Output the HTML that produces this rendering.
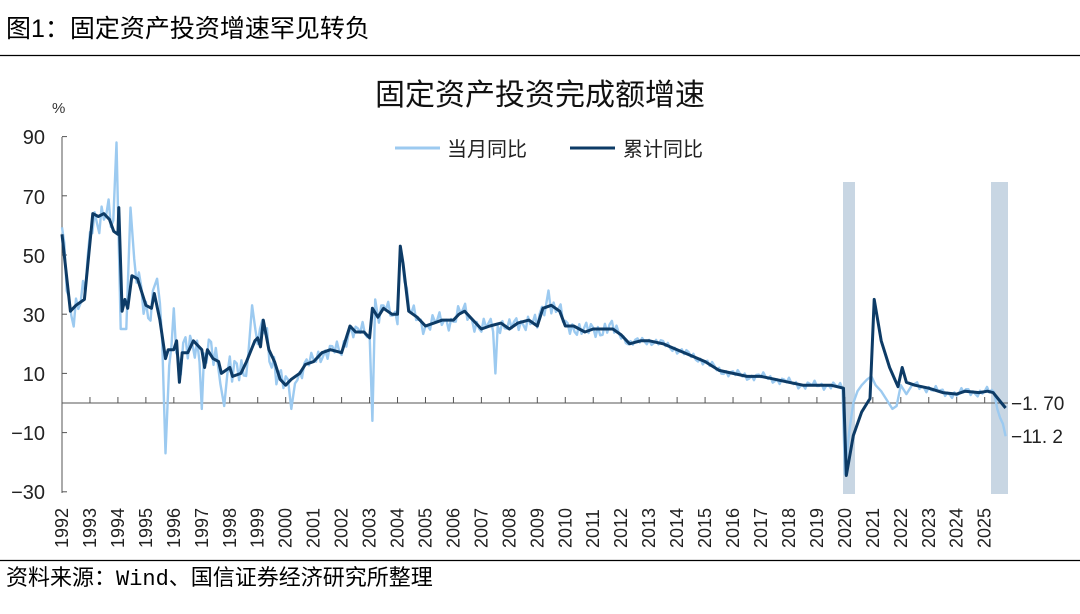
<!DOCTYPE html>
<html><head><meta charset="utf-8"><style>
body{margin:0;background:#fff;width:1080px;height:609px;overflow:hidden;font-family:"Liberation Sans","Noto Sans CJK SC",sans-serif}
</style></head><body>
<svg id="s" width="1080" height="609" xmlns="http://www.w3.org/2000/svg" font-family="Liberation Sans, Noto Sans CJK SC, sans-serif">
<text x="6" y="37" font-size="25" fill="#000">图1：固定资产投资增速罕见转负</text>
<line x1="0" y1="55.5" x2="1080" y2="55.5" stroke="#000" stroke-width="1.2"/>
<text x="540" y="105" font-size="30" text-anchor="middle" fill="#111">固定资产投资完成额增速</text>
<line x1="395" y1="148" x2="440" y2="148" stroke="#9ccaf0" stroke-width="3"/>
<text x="447" y="156" font-size="20" fill="#222">当月同比</text>
<line x1="570" y1="148" x2="615" y2="148" stroke="#0d3b66" stroke-width="3"/>
<text x="623" y="156" font-size="20" fill="#222">累计同比</text>
<rect x="843" y="182" width="12" height="312" fill="#c8d6e3"/>
<rect x="991" y="182" width="17" height="312" fill="#c8d6e3"/>
<text x="52" y="113" font-size="15" fill="#333">%</text>
<g font-size="20" fill="#222" text-anchor="end">
<text x="45" y="144">90</text><text x="45" y="204">70</text><text x="45" y="263">50</text>
<text x="45" y="322">30</text><text x="45" y="381">10</text><text x="45" y="440">−10</text><text x="45" y="499">−30</text>
</g>
<line x1="62" y1="137" x2="62" y2="493" stroke="#555" stroke-width="1"/>
<g stroke="#555" stroke-width="1" id="yt"></g>
<line x1="62" y1="403" x2="1008" y2="403" stroke="#555" stroke-width="1"/>
<g id="xt" stroke="#555"></g>
<g id="xl" font-size="18" fill="#222"></g>
<path id="light" fill="none" stroke="#9ccaf0" stroke-width="2.4" stroke-linejoin="round"/>
<path id="dark" fill="none" stroke="#0d3b66" stroke-width="3" stroke-linejoin="round"/>
<text x="1011" y="410" font-size="19" fill="#222">−1. 70</text>
<text x="1011" y="443" font-size="19" fill="#222">−11. 2</text>
<line x1="0" y1="560.5" x2="1080" y2="560.5" stroke="#000" stroke-width="1.2"/>
<text x="6" y="585" font-size="22" fill="#000" font-family="Liberation Mono, Noto Sans CJK SC, monospace">资料来源：Wind、国信证券经济研究所整理</text>
</svg>
<script>
var X=function(t){return 62+(t-1992)*27.96},Y=function(v){return 403-v*2.96};
var ns="http://www.w3.org/2000/svg";
var yt=document.getElementById('yt');
[90,70,50,30,10,-10,-30].forEach(function(v){var l=document.createElementNS(ns,'line');l.setAttribute('x1',62);l.setAttribute('x2',67);l.setAttribute('y1',Y(v));l.setAttribute('y2',Y(v));yt.appendChild(l);});
var xt=document.getElementById('xt'),xl=document.getElementById('xl');
for(var yr=1992;yr<=2025;yr++){var x=X(yr);
 if(yr>1992){var l=document.createElementNS(ns,'line');l.setAttribute('x1',x);l.setAttribute('x2',x);l.setAttribute('y1',397);l.setAttribute('y2',403);xt.appendChild(l);}
 var t=document.createElementNS(ns,'text');t.setAttribute('transform','translate('+(x+6)+',548) rotate(-90)');t.textContent=yr;xl.appendChild(t);}
var D=[[1992,57],[1992.3,31],[1992.5,33],[1992.8,35],[1993.1,64],[1993.3,63],[1993.5,64],[1993.7,62],[1993.85,58],[1994,57],[1994.03,66],[1994.15,31],[1994.25,35],[1994.35,32],[1994.5,43],[1994.7,42],[1994.9,36],[1995,33],[1995.2,32],[1995.3,37],[1995.5,28],[1995.7,15],[1995.8,18],[1996,18],[1996.1,21],[1996.2,7],[1996.3,17],[1996.5,17],[1996.7,21],[1997,18],[1997.1,12],[1997.2,18],[1997.4,15],[1997.6,14],[1997.7,10],[1998,12],[1998.1,9],[1998.4,10],[1998.6,14],[1998.9,21],[1999,22],[1999.1,19],[1999.2,28],[1999.4,18],[1999.6,14],[1999.8,8],[2000,6],[2000.2,8],[2000.5,10],[2000.7,13],[2001,14],[2001.3,17],[2001.6,18],[2002,17],[2002.3,26],[2002.5,24],[2002.8,24],[2003,22],[2003.1,32],[2003.3,29],[2003.5,32],[2003.8,30],[2004,30],[2004.1,53],[2004.2,47],[2004.4,31],[2004.7,29],[2005,26],[2005.3,27],[2005.6,28],[2006,28],[2006.2,30],[2006.4,31],[2006.7,28],[2007,25],[2007.3,26],[2007.7,27],[2008,25],[2008.3,27],[2008.7,28],[2009,26],[2009.2,32],[2009.5,33],[2009.8,31],[2010,26],[2010.3,26],[2010.7,24],[2011,25],[2011.3,25],[2011.7,25],[2012,23],[2012.3,20],[2012.7,21],[2013,21],[2013.5,20],[2014,18],[2014.5,16],[2015,14],[2015.5,11],[2016,10],[2016.5,9],[2017,9],[2017.5,8],[2018,7],[2018.5,6],[2019,6],[2019.5,6],[2019.95,5],[2020.05,-24.5],[2020.3,-11],[2020.6,-3],[2020.8,0],[2020.9,1.5],[2021.05,35],[2021.3,21],[2021.6,12],[2021.9,5.5],[2022.05,12],[2022.2,7],[2022.5,6],[2023,5],[2023.5,3.5],[2024,3],[2024.3,4],[2024.8,3.5],[2025.1,4],[2025.3,3.5],[2025.6,0],[2025.75,-1.7]];
function interp(t){for(var i=1;i<D.length;i++){if(D[i][0]>=t){var a=D[i-1],b=D[i];return a[1]+(b[1]-a[1])*(t-a[0])/(b[0]-a[0]);}}return D[D.length-1][1];}
var S=[[1993.95,88],[1994.1,25],[1994.3,25],[1994.45,66],[1995.4,42],[1995.7,-17],[1996,32],[1997,-2],[1997.8,-1],[1998.8,33],[2000.2,-2],[2003.1,-6],[2003.2,35],[2007.5,10],[2009.4,38],
[2020.0,-24],[2020.15,-10],[2020.3,0],[2020.45,4],[2020.6,6],[2020.8,8],[2020.95,9],[2021.1,6],[2021.3,4],[2021.5,1],[2021.7,-2],[2021.85,-1],[2022.0,6],[2022.2,3],[2022.4,6],[2025.45,-2],[2025.55,-5],[2025.65,-7],[2025.75,-11.2]];
var L=S.slice();
for(var m=0;m<=407;m++){var t=1992+m/12;if(t>2025.42)break;
 if(t>2019.93&&t<2022.45)continue;
 var near=false;S.forEach(function(s){if(Math.abs(s[0]-t)<0.07)near=true;});if(near)continue;
 var a=t<2000?7:(t<2012?3.5:1.6);
 var n=Math.sin(m*2.3)*0.6+Math.sin(m*5.7+1)*0.4;
 L.push([t,interp(t)+a*n]);}
L.sort(function(a,b){return a[0]-b[0]});
function path(arr){return arr.map(function(p,i){return (i?'L':'M')+X(p[0]).toFixed(1)+' '+Y(p[1]).toFixed(1)}).join('');}
document.getElementById('light').setAttribute('d',path(L));
document.getElementById('dark').setAttribute('d',path(D));
</script>
</body></html>
